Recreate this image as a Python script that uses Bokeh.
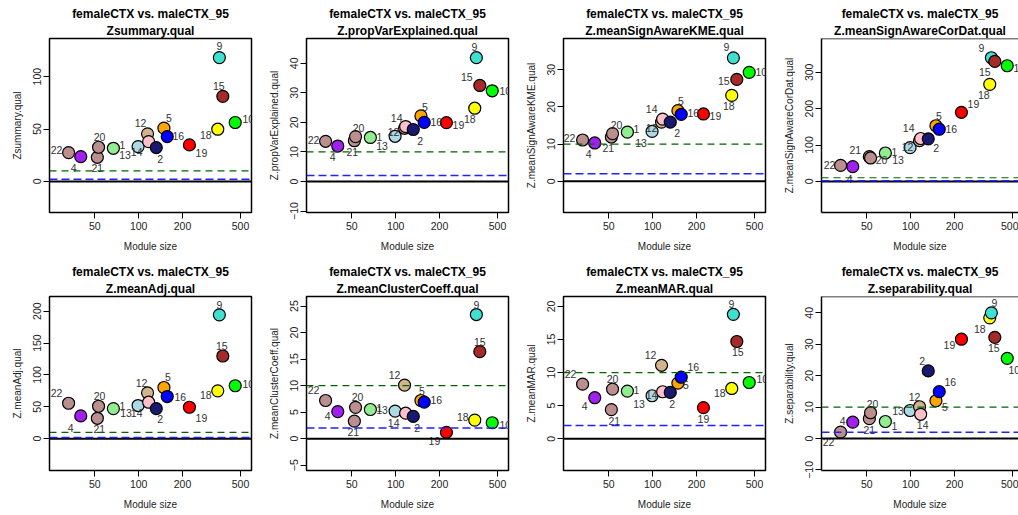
import math
from bokeh.plotting import figure
from bokeh.layouts import column, row
from bokeh.models import FixedTicker, Span, ColumnDataSource, BasicTickFormatter, Range1d, Title
from bokeh.embed import file_html
from bokeh.resources import INLINE
from bokeh.core.properties import value

# ---------------- data ----------------
comparison = "femaleCTX vs. maleCTX_95"
modules = ["1", "2", "4", "5", "9", "10", "12", "13", "14", "15", "16", "18", "19", "20", "21", "22"]
module_size = [67, 132, 40, 149, 358, 460, 115, 99, 117, 378, 157, 349, 223, 53, 52, 33]
module_color = ["#90EE90", "#191970", "#A020F0", "#FFA500", "#40E0D0", "#00FF00", "#D2B48C", "#ADD8E6",
                "#FFC0CB", "#A52A2A", "#0000FF", "#FFFF00", "#FF0000", "#BC8F8F", "#BC8F8F", "#BC8F8F"]

stat_names = ["Zsummary.qual", "Z.propVarExplained.qual", "Z.meanSignAwareKME.qual", "Z.meanSignAwareCorDat.qual",
              "Z.meanAdj.qual", "Z.meanClusterCoeff.qual", "Z.meanMAR.qual", "Z.separability.qual"]

zsummary = [31.6, 32.3, 23.6, 50.8, 118.2, 56.2, 45.4, 33.2, 38.0, 81.2, 42.8, 49.8, 34.8, 32.6, 23.0, 27.5]
z_prop_var = [14.9, 17.6, 12.0, 22.2, 41.9, 30.7, 18.0, 15.3, 18.6, 32.5, 20.0, 24.8, 19.9, 15.2, 13.8, 13.6]
z_kme = [13.2, 15.9, 10.3, 19.0, 33.2, 29.3, 15.9, 13.4, 16.7, 27.4, 18.0, 23.1, 18.1, 12.8, 11.9, 11.1]
z_cordat = [78, 117, 40.5, 153, 340, 318, 112, 93, 118, 330, 143.5, 267, 190, 64.4, 68, 44]
z_adj = [47.2, 47.2, 35.7, 80.3, 194.2, 83.0, 71.9, 52.0, 57.2, 129.7, 66.1, 75.0, 49.3, 50.9, 32.0, 55.6]
z_cluster = [5.5, 4.2, 5.1, 7.2, 23.4, 3.0, 10.1, 5.2, 4.8, 16.4, 6.9, 3.5, 1.2, 5.9, 3.3, 7.2]
z_mar = [7.2, 7.0, 6.2, 8.4, 18.8, 8.5, 11.1, 6.5, 7.1, 14.7, 9.3, 7.6, 4.7, 7.5, 4.4, 8.25]
z_separability = [5.4, 21.5, 5.2, 12.0, 40.0, 25.5, 10.1, 8.9, 7.7, 32.2, 14.9, 38.4, 31.6, 8.2, 6.3, 2.0]
stat_values = [zsummary, z_prop_var, z_kme, z_cordat, z_adj, z_cluster, z_mar, z_separability]

y_ticks = [[0, 50, 100], [-10, 0, 10, 20, 30, 40], [0, 10, 20, 30], [0, 100, 200, 300],
           [0, 50, 100, 150, 200], [-5, 0, 5, 10, 15, 20, 25], [0, 5, 10, 15, 20], [-10, 0, 10, 20, 30, 40]]
y_limits = [(-29.7, 136.4), (-10.5, 48.4), (-8.4, 38.4), (-85.6, 393), (-49.9, 223), (-6.0, 26.8),
            (-4.8, 21.5), (-10.2, 45.2)]
x_ticks = [50, 100, 200, 500]
x_limits = (24.4, 595)
thresholds = [2, 10]

# ---------------- label placement (pixel offsets, module order) ----------------
label_offsets = [
    [(9, -3), (4, 11), (-7, 11), (5, -10), (0, -12), (13, -4), (-7, -11), (-13, 8), (-12, 10), (-4, -10), (11, -1), (-12, 6), (12, 8), (1, -10), (0, 11), (-12, -3)],
    [(9, 0), (7, 12), (-5, 11), (4, -9), (-2, -11), (13, 0), (-11, 4), (-13, 10), (-9, -9), (-13, -8), (12, 0), (-5, 11), (12, 2), (3, -9), (-2, 11), (-12, -1)],
    [(9, -3), (7, 11), (-6, 11), (3, -10), (-7, -11), (12, 0), (-10, 6), (-11, 12), (-11, -10), (-13, 2), (12, -1), (-3, 11), (12, 2), (4, -9), (-3, 11), (-13, -2)],
    [(9, -1), (8, 9), (-3, 12), (3, -10), (-10, -10), (12, 2), (-12, 6), (-12, 12), (-12, -10), (-10, 11), (12, 0), (-6, 11), (12, -8), (11, 2), (-14, -7), (-11, 0)],
    [(9, -3), (4, 10), (-10, 12), (4, -10), (0, -10), (13, -2), (-6, -10), (-12, 7), (-12, 11), (-1, -10), (13, 0), (-12, 4), (12, 11), (1, -10), (2, 11), (-12, -10)],
    [(9, -1), (4, 12), (-10, 4), (1, -9), (0, -10), (13, 2), (-10, -10), (-13, -1), (-12, 10), (0, -10), (12, -2), (-12, -3), (-12, 9), (2, -10), (-1, 11), (-12, -10)],
    [(9, -1), (2, 12), (-10, 8), (8, 2), (-2, -10), (13, -4), (-11, -10), (-13, 8), (-11, 3), (1, 11), (12, -10), (-12, 5), (0, 11), (0, -10), (3, 11), (-12, -10)],
    [(9, 4), (-6, -10), (-10, -1), (9, 6), (3, -10), (7, 12), (-5, -10), (-12, 0), (2, 11), (-1, 11), (11, -10), (-10, 11), (-12, 6), (2, -9), (0, 11), (-12, 10)],
]

FONT = "Liberation Sans"
COL_W = [257, 257, 258, 246]
ROW_H = [258, 257]
FRAME_L, FRAME_T, FRAME_W, FRAME_H = 49, 38, 202, 174


def title_line(text, standoff):
    return Title(text=text, align="center", text_font=FONT, text_font_size="12px",
                 text_font_style="bold", text_color="black", standoff=standoff, offset=0)


def make_panel(i):
    r, c = divmod(i, 4)
    w, h = COL_W[c], ROW_H[r]
    last_col = (c == 3)
    visible_w = min(FRAME_W, w - FRAME_L)
    l0, l1 = math.log10(x_limits[0]), math.log10(x_limits[1])
    x_end = 10 ** (l0 + (l1 - l0) * visible_w / FRAME_W)

    p = figure(width=w, height=h, x_axis_type="log", output_backend="svg", toolbar_location=None,
               title=None,
               x_range=Range1d(x_limits[0], x_end), y_range=Range1d(*y_limits[i]),
               min_border_left=FRAME_L, min_border_top=FRAME_T,
               min_border_right=w - FRAME_L - visible_w, min_border_bottom=h - FRAME_T - FRAME_H)
    p.background_fill_color = "white"
    p.border_fill_color = "white"
    p.grid.visible = False

    # two centred title lines: the one added first sits nearest the frame
    p.add_layout(title_line(stat_names[i], 2), "above")
    p.add_layout(title_line(comparison, 0), "above")

    for ax in (p.xaxis[0], p.yaxis[0]):
        ax.axis_label_text_font = FONT
        ax.axis_label_text_font_size = "10px"
        ax.axis_label_text_font_style = "normal"
        ax.axis_label_text_color = "#222222"
        ax.major_label_text_font = FONT
        ax.major_label_text_font_size = "10.5px"
        ax.major_label_text_color = "#222222"
        ax.major_tick_out = 6
        ax.major_tick_in = 0
        ax.major_tick_line_color = "black"
        ax.minor_tick_line_color = None
        ax.axis_line_color = None

    p.xaxis.axis_label = "Module size"
    p.xaxis.ticker = FixedTicker(ticks=x_ticks)
    p.xaxis.formatter = BasicTickFormatter()
    p.xaxis.major_label_standoff = 3
    p.xaxis.axis_label_standoff = 8

    p.yaxis.axis_label = stat_names[i]
    p.yaxis.ticker = FixedTicker(ticks=y_ticks[i])
    p.yaxis.major_label_orientation = "vertical"
    p.yaxis.major_label_standoff = 2
    p.yaxis.axis_label_standoff = 8

    if last_col:
        p.outline_line_color = None
        p.xaxis.axis_line_color = "black"
        p.xaxis.axis_line_width = 1.5
        p.yaxis.axis_line_color = "black"
        p.yaxis.axis_line_width = 1.5
        p.add_layout(Span(location=y_limits[i][1], dimension="width", line_color="black", line_width=1.5))
    else:
        p.outline_line_color = "black"
        p.outline_line_width = 1.5
        p.outline_line_alpha = 1.0

    order = sorted(range(len(modules)), key=lambda k: module_size[k])
    src = ColumnDataSource(dict(
        x=[module_size[k] for k in order],
        y=[stat_values[i][k] for k in order],
        color=[module_color[k] for k in order],
        lab=[modules[k] for k in order],
        dx=[label_offsets[i][k][0] for k in order],
        dy=[label_offsets[i][k][1] for k in order],
    ))
    p.scatter("x", "y", source=src, size=12, fill_color="color", line_color="black", line_width=1.2)
    p.text("x", "y", text="lab", source=src, x_offset="dx", y_offset="dy", text_align="center",
           text_baseline="middle", text_font=value(FONT), text_font_size="10.5px", text_color="#333333")

    p.add_layout(Span(location=0, dimension="width", line_color="black", line_width=2))
    p.add_layout(Span(location=thresholds[0], dimension="width", line_color="#2222ff", line_width=1.5,
                      line_dash="8 4"))
    p.add_layout(Span(location=thresholds[1], dimension="width", line_color="#006400", line_width=1.2,
                      line_dash="7 5"))
    return p


panels = [make_panel(i) for i in range(8)]
layout = column(row(*panels[:4], spacing=0), row(*panels[4:], spacing=0), spacing=0)
open("out.html", "w").write(file_html(layout, INLINE))
